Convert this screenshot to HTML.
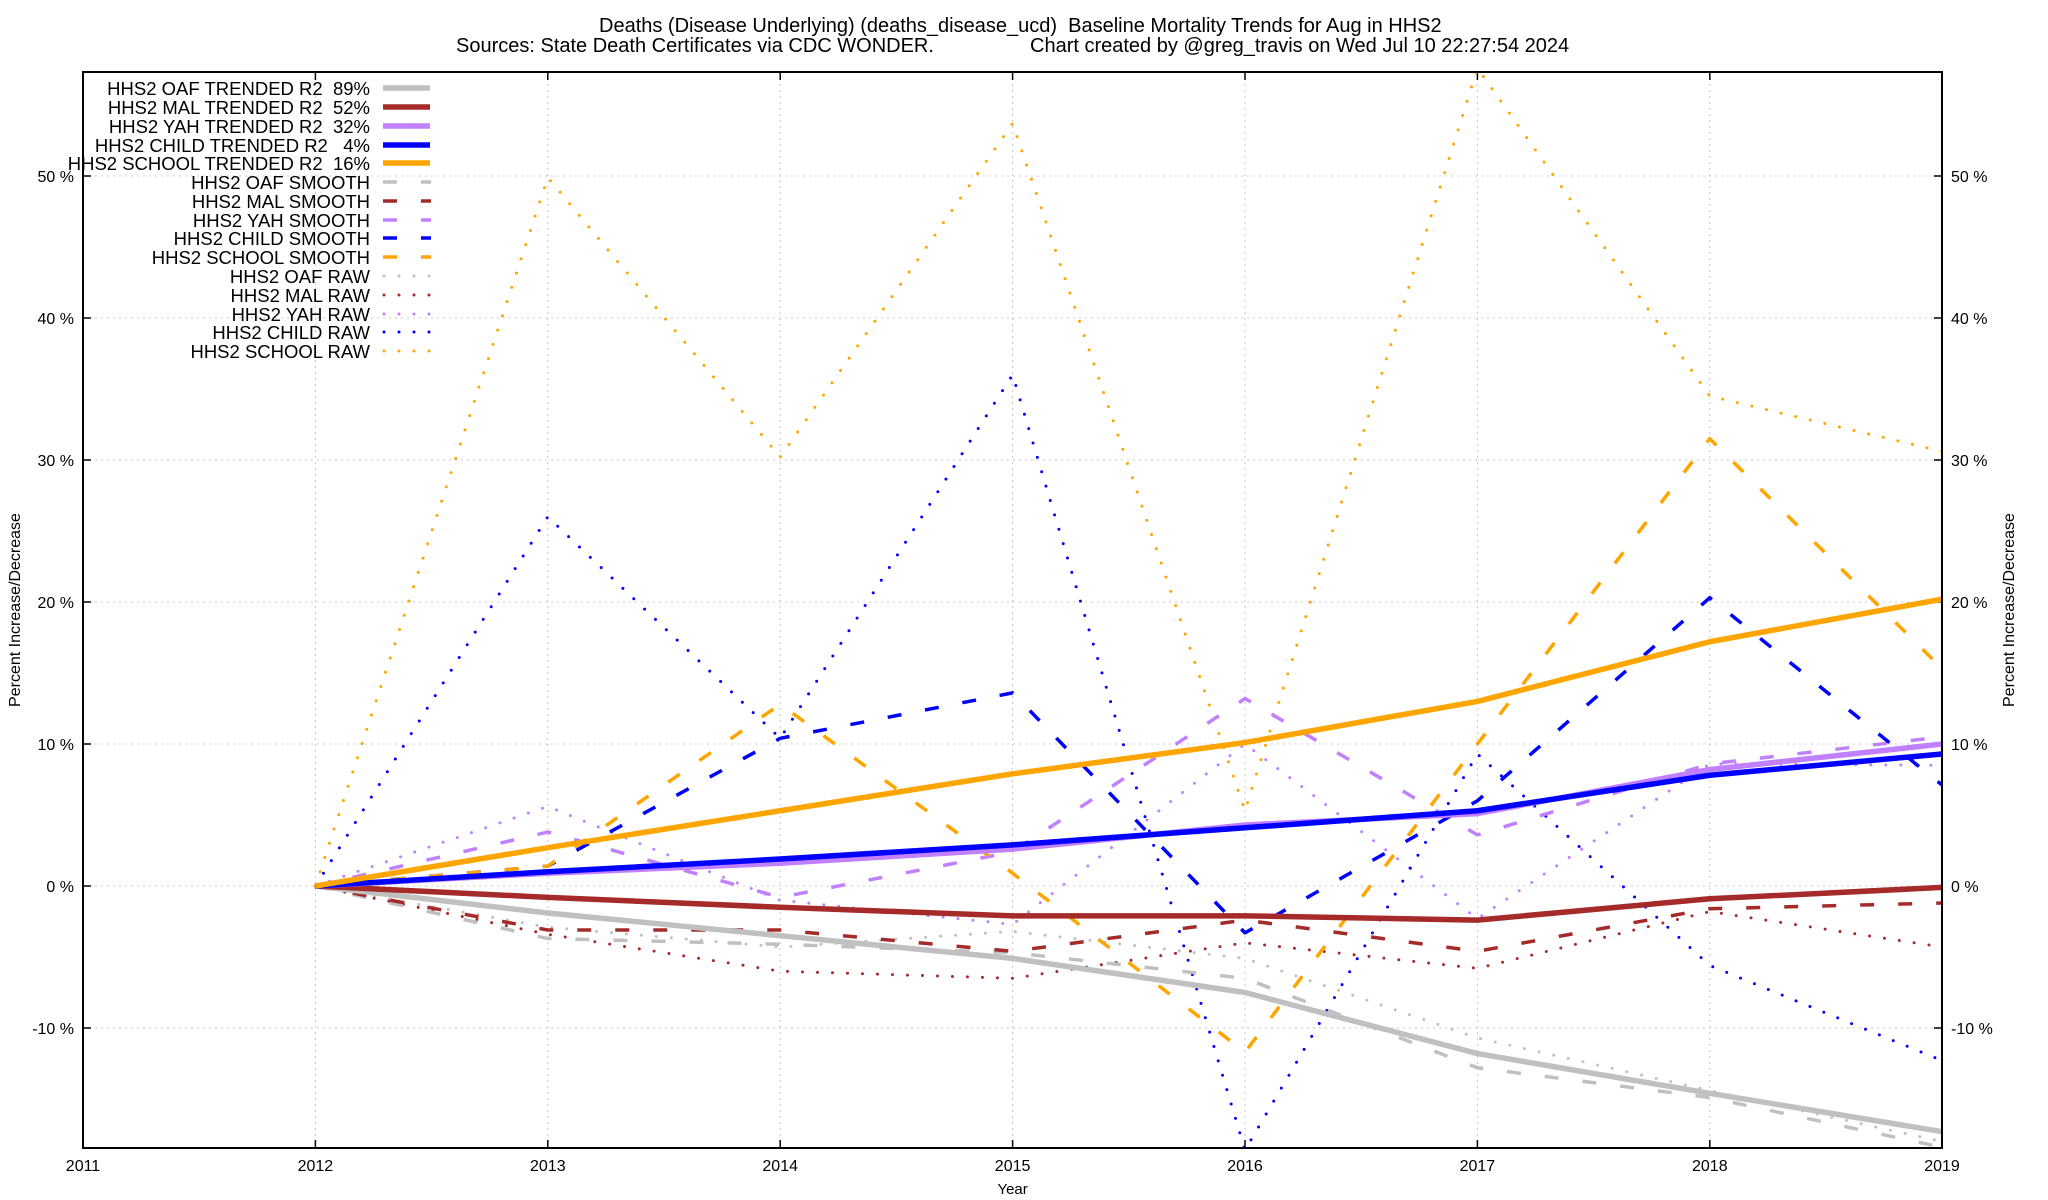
<!DOCTYPE html>
<html><head><meta charset="utf-8"><style>
html,body{margin:0;padding:0;background:#fff;}
svg{display:block;font-family:"Liberation Sans",Arial,sans-serif;}
text{white-space:pre;}
</style></head><body>
<svg width="2048" height="1200" viewBox="0 0 2048 1200" xmlns="http://www.w3.org/2000/svg" xml:space="preserve">
<defs><clipPath id="c"><rect x="83" y="72" width="1859" height="1076"/></clipPath></defs>
<rect width="2048" height="1200" fill="#fff"/>
<text x="599" y="32" font-size="20">Deaths (Disease Underlying) (deaths_disease_ucd)  Baseline Mortality Trends for Aug in HHS2</text>
<text x="456" y="52" font-size="20">Sources: State Death Certificates via CDC WONDER.</text>
<text x="1030" y="52" font-size="20">Chart created by @greg_travis on Wed Jul 10 22:27:54 2024</text>
<g stroke="#c8c8c8" stroke-width="1" stroke-dasharray="2 4">
<line x1="315.4" y1="72" x2="315.4" y2="1148"/><line x1="547.8" y1="72" x2="547.8" y2="1148"/>
<line x1="780.2" y1="72" x2="780.2" y2="1148"/><line x1="1012.6" y1="72" x2="1012.6" y2="1148"/>
<line x1="1245" y1="72" x2="1245" y2="1148"/><line x1="1477.4" y1="72" x2="1477.4" y2="1148"/>
<line x1="1709.8" y1="72" x2="1709.8" y2="1148"/>
<line x1="83" y1="176" x2="1942" y2="176"/><line x1="83" y1="318" x2="1942" y2="318"/>
<line x1="83" y1="460" x2="1942" y2="460"/><line x1="83" y1="602" x2="1942" y2="602"/>
<line x1="83" y1="744" x2="1942" y2="744"/><line x1="83" y1="886" x2="1942" y2="886"/>
<line x1="83" y1="1028" x2="1942" y2="1028"/>
</g>
<g stroke="#000" stroke-width="1.5">
<line x1="83" y1="176" x2="91" y2="176"/><line x1="83" y1="318" x2="91" y2="318"/><line x1="83" y1="460" x2="91" y2="460"/><line x1="83" y1="602" x2="91" y2="602"/><line x1="83" y1="744" x2="91" y2="744"/><line x1="83" y1="886" x2="91" y2="886"/><line x1="83" y1="1028" x2="91" y2="1028"/>
<line x1="1934" y1="176" x2="1942" y2="176"/><line x1="1934" y1="318" x2="1942" y2="318"/><line x1="1934" y1="460" x2="1942" y2="460"/><line x1="1934" y1="602" x2="1942" y2="602"/><line x1="1934" y1="744" x2="1942" y2="744"/><line x1="1934" y1="886" x2="1942" y2="886"/><line x1="1934" y1="1028" x2="1942" y2="1028"/>
<line x1="315.4" y1="1148" x2="315.4" y2="1140"/><line x1="547.8" y1="1148" x2="547.8" y2="1140"/><line x1="780.2" y1="1148" x2="780.2" y2="1140"/><line x1="1012.6" y1="1148" x2="1012.6" y2="1140"/><line x1="1245" y1="1148" x2="1245" y2="1140"/><line x1="1477.4" y1="1148" x2="1477.4" y2="1140"/><line x1="1709.8" y1="1148" x2="1709.8" y2="1140"/>
<line x1="315.4" y1="72" x2="315.4" y2="80"/><line x1="547.8" y1="72" x2="547.8" y2="80"/><line x1="780.2" y1="72" x2="780.2" y2="80"/><line x1="1012.6" y1="72" x2="1012.6" y2="80"/><line x1="1245" y1="72" x2="1245" y2="80"/><line x1="1477.4" y1="72" x2="1477.4" y2="80"/><line x1="1709.8" y1="72" x2="1709.8" y2="80"/>
</g>
<g font-size="16" text-anchor="end">
<text x="74" y="182">50 %</text><text x="74" y="324">40 %</text><text x="74" y="466">30 %</text><text x="74" y="608">20 %</text><text x="74" y="750">10 %</text><text x="74" y="892">0 %</text><text x="74" y="1034">-10 %</text>
</g>
<g font-size="16">
<text x="1951" y="182">50 %</text><text x="1951" y="324">40 %</text><text x="1951" y="466">30 %</text><text x="1951" y="608">20 %</text><text x="1951" y="750">10 %</text><text x="1951" y="892">0 %</text><text x="1951" y="1034">-10 %</text>
</g>
<g font-size="16" text-anchor="middle">
<text x="83" y="1171">2011</text><text x="315.4" y="1171">2012</text><text x="547.8" y="1171">2013</text><text x="780.2" y="1171">2014</text><text x="1012.6" y="1171">2015</text><text x="1245" y="1171">2016</text><text x="1477.4" y="1171">2017</text><text x="1709.8" y="1171">2018</text><text x="1942" y="1171">2019</text>
<text x="1012.6" y="1194" font-size="15">Year</text>
<text transform="translate(20,610) rotate(-90)" font-size="16">Percent Increase/Decrease</text>
<text transform="translate(2014,610) rotate(-90)" font-size="16">Percent Increase/Decrease</text>
</g>
<g clip-path="url(#c)" fill="none" stroke-linejoin="round">
<g transform="translate(83,886) scale(232.4,-14.2)">
<g stroke-width="3" stroke-dasharray="0 15" stroke-linecap="round">
<polyline vector-effect="non-scaling-stroke" stroke="#c0c0c0" points="1,0 2,-2.9 3,-4.3 4,-3.2 5,-5.1 6,-10.7 7,-14.4 8,-18.0"/>
<polyline vector-effect="non-scaling-stroke" stroke="#a52a2a" points="1,0 2,-3.4 3,-6.0 4,-6.5 5,-4.0 6,-5.8 7,-1.8 8,-4.3"/>
<polyline vector-effect="non-scaling-stroke" stroke="#c080ff" points="1,0 2,5.6 3,-1.0 4,-2.7 5,10.0 6,-2.3 7,8.6 8,8.5"/>
<polyline vector-effect="non-scaling-stroke" stroke="#0000ff" points="1,0 2,26.0 3,10.4 4,36.0 5,-18.6 6,9.3 7,-5.6 8,-12.3"/>
<polyline vector-effect="non-scaling-stroke" stroke="#ffa500" points="1,0 2,49.9 3,30.2 4,53.7 5,5.3 6,57.6 7,34.5 8,30.6"/>
</g>
<g stroke-width="3.5" stroke-dasharray="14 24">
<polyline vector-effect="non-scaling-stroke" stroke="#c0c0c0" points="1,0 2,-3.7 3,-4.1 4,-4.7 5,-6.5 6,-12.8 7,-14.9 8,-18.4"/>
<polyline vector-effect="non-scaling-stroke" stroke="#a52a2a" points="1,0 2,-3.1 3,-3.1 4,-4.6 5,-2.4 6,-4.6 7,-1.6 8,-1.2"/>
<polyline vector-effect="non-scaling-stroke" stroke="#c080ff" points="1,0 2,3.8 3,-0.8 4,2.4 5,13.2 6,3.6 7,8.6 8,10.5"/>
<polyline vector-effect="non-scaling-stroke" stroke="#0000ff" points="1,0 2,1.4 3,10.4 4,13.6 5,-3.3 6,6.0 7,20.3 8,7.1"/>
<polyline vector-effect="non-scaling-stroke" stroke="#ffa500" points="1,0 2,1.4 3,12.8 4,0.9 5,-11.7 6,10.0 7,31.5 8,15.3"/>
</g>
<g stroke-width="5.5">
<polyline vector-effect="non-scaling-stroke" stroke="#c0c0c0" points="1,0 2,-1.9 3,-3.5 4,-5.1 5,-7.5 6,-11.8 7,-14.6 8,-17.3"/>
<polyline vector-effect="non-scaling-stroke" stroke="#a52a2a" points="1,0 2,-0.8 3,-1.5 4,-2.1 5,-2.1 6,-2.4 7,-0.9 8,-0.1"/>
<polyline vector-effect="non-scaling-stroke" stroke="#c080ff" points="1,0 2,0.9 3,1.6 4,2.6 5,4.3 6,5.1 7,8.2 8,10.0"/>
<polyline vector-effect="non-scaling-stroke" stroke="#0000ff" points="1,0 2,1.0 3,1.9 4,2.9 5,4.1 6,5.3 7,7.8 8,9.3"/>
<polyline vector-effect="non-scaling-stroke" stroke="#ffa500" points="1,0 2,2.7 3,5.3 4,7.9 5,10.1 6,13.0 7,17.2 8,20.2"/>
</g>
</g>
</g>
<rect x="83" y="72" width="1859" height="1076" fill="none" stroke="#000" stroke-width="2"/>
<g font-size="18.5" text-anchor="end">
<text x="370" y="95">HHS2 OAF TRENDED R2  89%</text>
<text x="370" y="114">HHS2 MAL TRENDED R2  52%</text>
<text x="370" y="133">HHS2 YAH TRENDED R2  32%</text>
<text x="370" y="152">HHS2 CHILD TRENDED R2   4%</text>
<text x="370" y="170">HHS2 SCHOOL TRENDED R2  16%</text>
<text x="370" y="189">HHS2 OAF SMOOTH</text>
<text x="370" y="208">HHS2 MAL SMOOTH</text>
<text x="370" y="227">HHS2 YAH SMOOTH</text>
<text x="370" y="245">HHS2 CHILD SMOOTH</text>
<text x="370" y="264">HHS2 SCHOOL SMOOTH</text>
<text x="370" y="283">HHS2 OAF RAW</text>
<text x="370" y="302">HHS2 MAL RAW</text>
<text x="370" y="321">HHS2 YAH RAW</text>
<text x="370" y="339">HHS2 CHILD RAW</text>
<text x="370" y="358">HHS2 SCHOOL RAW</text>
</g>
<g stroke-width="5.5">
<line x1="383" y1="88" x2="430" y2="88" stroke="#c0c0c0"/>
<line x1="383" y1="107" x2="430" y2="107" stroke="#a52a2a"/>
<line x1="383" y1="126" x2="430" y2="126" stroke="#c080ff"/>
<line x1="383" y1="145" x2="430" y2="145" stroke="#0000ff"/>
<line x1="383" y1="163" x2="430" y2="163" stroke="#ffa500"/>
</g>
<g stroke-width="3.5" stroke-dasharray="14 24">
<line x1="383" y1="182" x2="431" y2="182" stroke="#c0c0c0"/>
<line x1="383" y1="201" x2="431" y2="201" stroke="#a52a2a"/>
<line x1="383" y1="220" x2="431" y2="220" stroke="#c080ff"/>
<line x1="383" y1="238" x2="431" y2="238" stroke="#0000ff"/>
<line x1="383" y1="257" x2="431" y2="257" stroke="#ffa500"/>
</g>
<g stroke-width="3" stroke-dasharray="0 15" stroke-linecap="round">
<line x1="384" y1="276" x2="430" y2="276" stroke="#c0c0c0"/>
<line x1="384" y1="295" x2="430" y2="295" stroke="#a52a2a"/>
<line x1="384" y1="314" x2="430" y2="314" stroke="#c080ff"/>
<line x1="384" y1="332" x2="430" y2="332" stroke="#0000ff"/>
<line x1="384" y1="351" x2="430" y2="351" stroke="#ffa500"/>
</g>
</svg>
</body></html>
